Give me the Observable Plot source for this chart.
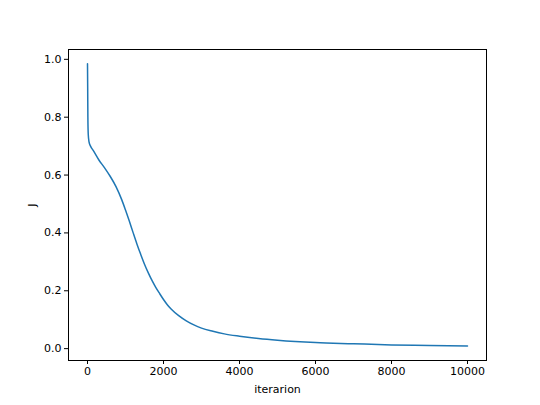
<!DOCTYPE html>
<html>
<head>
<meta charset="utf-8">
<script src="https://cdn.jsdelivr.net/npm/d3@7"></script>
<script src="https://cdn.jsdelivr.net/npm/@observablehq/plot@0.6"></script>
<style>
  html, body { margin: 0; padding: 0; background: #fff; }
  #chart { width: 540px; height: 405px; }
</style>
</head>
<body>
<div id="chart"></div>
<script>
const iterations = [0, 5, 10, 20, 40, 80, 150, 300, 450, 600, 750, 900, 1000, 1100, 1200, 1300, 1400, 1500, 1600, 1700, 1800, 1900, 2000, 2100, 2200, 2400, 2600, 2800, 3000, 3300, 3600, 4000, 4500, 5000, 6000, 7000, 8000, 9000, 10000];
const costJ =      [0.985, 0.90, 0.80, 0.74, 0.715, 0.70, 0.685, 0.652, 0.625, 0.595, 0.56, 0.515, 0.479, 0.441, 0.401, 0.362, 0.326, 0.292, 0.262, 0.235, 0.211, 0.19, 0.17, 0.152, 0.137, 0.114, 0.096, 0.082, 0.071, 0.06, 0.051, 0.043, 0.035, 0.029, 0.021, 0.017, 0.013, 0.011, 0.009];
const xTicks = [0, 2000, 4000, 6000, 8000, 10000];
const yTicks = [0.0, 0.2, 0.4, 0.6, 0.8, 1.0];

const data = iterations.map((it, i) => ({it, J: costJ[i]}));

const chart = Plot.plot({
  width: 540,
  height: 405,
  marginLeft: 68,
  marginRight: 54,
  marginTop: 49,
  marginBottom: 45,
  style: {fontFamily: "DejaVu Sans", fontSize: "11px", color: "#000", background: "#fff"},
  x: {domain: [-500, 10500]},
  y: {domain: [-0.041, 1.034]},
  marks: [
    Plot.line(data, {x: "it", y: "J", stroke: "#1f77b4", strokeWidth: 1.5, curve: "monotone-x"}),
    Plot.frame({stroke: "#000", strokeWidth: 1}),
    Plot.axisX({ticks: xTicks, tickFormat: d3.format("d"), tickSize: 4, tickPadding: 3, label: "iterarion", labelAnchor: "center", labelArrow: "none", labelOffset: 32, fontSize: 11}),
    Plot.axisY({ticks: yTicks, tickFormat: d3.format(".1f"), tickSize: 4, tickPadding: 3, label: "J", labelAnchor: "center", labelArrow: "none", labelOffset: 40, fontSize: 11})
  ]
});
document.getElementById("chart").appendChild(chart);
</script>
</body>
</html>
